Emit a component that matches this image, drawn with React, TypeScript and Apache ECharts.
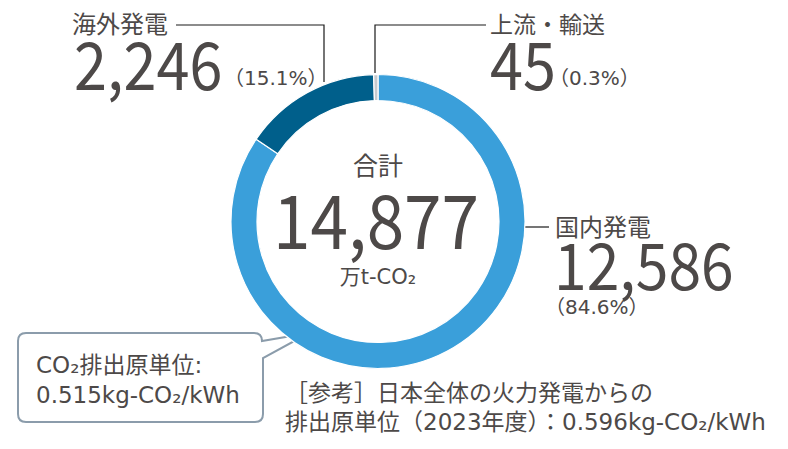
import { useEffect, useRef } from "react";
import * as echarts from "echarts";

// 排出量（万t-CO2）
const categories = ["国内発電", "海外発電", "上流・輸送"];
const values = [12586, 2246, 45];
const shares = ["84.6%", "15.1%", "0.3%"];
const colors = ["#3a9fda", "#005f8b", "#c6cacf"];

const totalLabel = "合計";
const totalValue = 14877;
const totalUnit = "万t-CO₂";

const calloutLines = ["CO₂排出原単位:", "0.515kg-CO₂/kWh"];
const noteLines = ["［参考］日本全体の火力発電からの", "排出原単位（2023年度）：0.596kg-CO₂/kWh"];

const TEXT = "#4d4948";
const FONT = '"DejaVu Sans", "Noto Sans CJK JP", sans-serif';
const NUM_FONT = '"Noto Sans CJK JP", "Noto Sans", sans-serif';

const fmt = (v: number) => v.toLocaleString("en-US");

echarts.graphic.registerShape(
  "callout",
  echarts.graphic.extendPath(
    "M 8 0 H 236 Q 244 0 244 8 L 291 0 L 245 25 V 81 Q 245 89 237 89 H 8 Q 0 89 0 81 V 8 Q 0 0 8 0 Z",
    {}
  )
);

function txt(x: number, y: number, text: string, size: number, extra: Record<string, unknown> = {}) {
  return {
    type: "text",
    x,
    y,
    style: {
      text,
      fill: TEXT,
      fontSize: size,
      fontFamily: FONT,
      textVerticalAlign: "middle",
      ...extra,
    },
  };
}

function big(x: number, y: number, text: string, size: number, sx: number, align = "left") {
  return {
    type: "text",
    x,
    y,
    scaleX: sx,
    style: {
      text,
      fill: TEXT,
      fontSize: size,
      lineHeight: Math.round(size * 0.75),
      fontFamily: NUM_FONT,
      textAlign: align,
      textVerticalAlign: "middle",
    },
  };
}

export default function App() {
  const chartRef = useRef<HTMLDivElement | null>(null);

  useEffect(() => {
    if (!chartRef.current) {
      return;
    }
    const chart = echarts.init(chartRef.current, null, { renderer: "svg" });
    const line = { stroke: "#1a1a1a", lineWidth: 1.2, fill: "none" };

    chart.setOption({
      animation: false,
      series: [
        {
          type: "pie",
          center: [378, 221.5],
          radius: [121, 147],
          startAngle: 90,
          minAngle: 1.7,
          silent: true,
          label: { show: false },
          labelLine: { show: false },
          itemStyle: { borderColor: "#ffffff", borderWidth: 1.2 },
          data: categories.map((name, i) => ({
            name,
            value: values[i],
            itemStyle: { color: colors[i] },
          })),
        },
      ],
      graphic: [
        // leader lines
        { type: "polyline", shape: { points: [[176, 25], [324, 25], [324, 82]] }, style: line },
        { type: "polyline", shape: { points: [[375, 73], [375, 25], [486, 25]] }, style: line },
        { type: "line", shape: { x1: 525, y1: 227, x2: 549, y2: 227 }, style: line },

        // 海外発電
        txt(72, 25, categories[1], 24),
        big(74, 61, fmt(values[1]), 66, 0.9),
        txt(224, 78, `（${shares[1]}）`, 20),

        // 上流・輸送
        txt(490, 25, categories[2], 23),
        big(490, 61, fmt(values[2]), 66, 0.9),
        txt(549, 78, `（${shares[2]}）`, 20),

        // 国内発電
        txt(555, 228, categories[0], 24),
        big(554, 262, fmt(values[0]), 64, 0.92),
        txt(545, 307, `（${shares[0]}）`, 20),

        // 合計
        txt(378, 166, totalLabel, 25, { textAlign: "center" }),
        big(376, 216, fmt(totalValue), 75, 0.9, "center"),
        txt(378, 277, totalUnit, 21, { textAlign: "center" }),

        // callout
        {
          type: "callout",
          x: 18,
          y: 333,
          style: { fill: "#ffffff", stroke: "#8b9cab", lineWidth: 2 },
        },
        txt(36, 365, calloutLines[0], 23),
        txt(36, 395, calloutLines[1], 23),

        // note
        txt(285, 393, noteLines[0], 23),
        txt(285, 422, noteLines[1], 23),
      ],
    });

    return () => {
      chart.dispose();
    };
  }, []);

  return (
    <div
      ref={chartRef}
      style={{ position: "absolute", left: 0, top: 0, width: 788, height: 449, background: "#ffffff" }}
    />
  );
}
